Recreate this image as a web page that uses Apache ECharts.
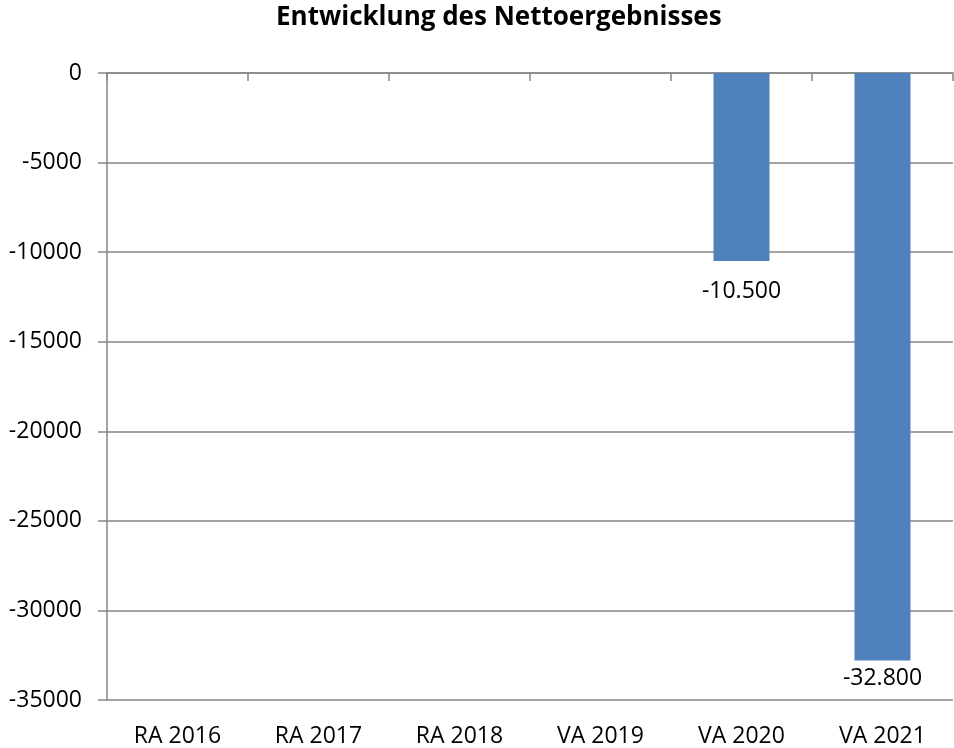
<!DOCTYPE html>
<html>
<head>
<meta charset="utf-8">
<script src="https://cdn.jsdelivr.net/npm/echarts@6/dist/echarts.min.js"></script>
<style>
  html, body { margin: 0; padding: 0; background: #fff; }
  #chart { width: 954px; height: 748px; }
</style>
</head>
<body>
<div id="chart"></div>
<script>
const categories = ['RA 2016', 'RA 2017', 'RA 2018', 'VA 2019', 'VA 2020', 'VA 2021'];
const nettoergebnis = [null, null, null, null, -10500, -32800];
const yTicks = { min: -35000, max: 0, interval: 5000 };

const lineColor = '#868686';
const font = '"Open Sans", "Liberation Sans", sans-serif';

// deutsche Tausendertrennung
function deFormat(v) {
    let s = String(Math.abs(v)).replace(/\B(?=(\d{3})+(?!\d))/g, '.');
    return (v < 0 ? '-' : '') + s;
}

// Beschriftung nahe der unteren Achse rückt näher an den Balken
let barData = nettoergebnis.map((v) => {
    if (v !== null && v < yTicks.min * 0.9) {
        return { value: v, label: { distance: 6 } };
    }
    return v;
});

let myChart = echarts.init(document.getElementById('chart'));
myChart.setOption({
    backgroundColor: '#fff',
    animation: false,
    title: {
        text: 'Entwicklung des Nettoergebnisses',
        left: 271,
        top: 0,
        textStyle: { fontFamily: font, fontSize: 26, fontWeight: 'bold', color: '#000' }
    },
    grid: { left: 107, right: 1, top: 73, bottom: 48 },
    xAxis: [{
        type: 'category',
        position: 'top',
        data: categories,
        axisLine: { show: true, onZero: false, lineStyle: { color: lineColor, width: 1.5 } },
        axisTick: { show: true, inside: true, length: 8, lineStyle: { color: lineColor, width: 1.5 } },
        axisLabel: { show: false }
    }, {
        type: 'category',
        position: 'bottom',
        data: categories,
        axisLine: { show: false },
        axisTick: { show: false },
        axisLabel: { fontFamily: font, fontSize: 23, color: '#000', margin: 25 }
    }],
    yAxis: {
        type: 'value',
        min: yTicks.min,
        max: yTicks.max,
        interval: yTicks.interval,
        axisLine: { show: true, lineStyle: { color: lineColor, width: 1.5 } },
        axisTick: { show: true, length: 9, lineStyle: { color: lineColor, width: 1.5 } },
        axisLabel: { fontFamily: font, fontSize: 23, color: '#000', margin: 25, formatter: (v) => String(v) },
        splitLine: { show: true, lineStyle: { color: lineColor, width: 1.5 } }
    },
    series: [{
        name: 'Nettoergebnis',
        type: 'bar',
        xAxisIndex: 0,
        barWidth: 56,
        data: barData,
        itemStyle: { color: '#4F81BD' },
        label: {
            show: true,
            position: 'bottom',
            distance: 19,
            fontFamily: font,
            fontSize: 23,
            color: '#000',
            formatter: (p) => deFormat(p.value)
        }
    }]
});
</script>
</body>
</html>
